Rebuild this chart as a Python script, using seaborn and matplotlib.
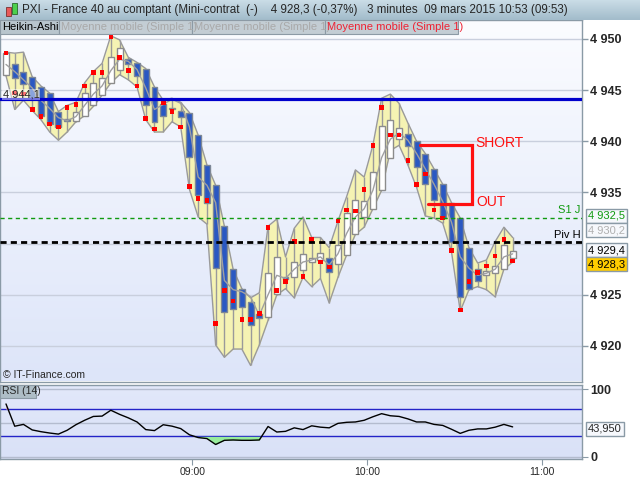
import numpy as np
import pandas as pd
import matplotlib
matplotlib.use("Agg")
import matplotlib.pyplot as plt
import seaborn as sns
from matplotlib.colors import LinearSegmentedColormap
from matplotlib.patches import Rectangle
from matplotlib.ticker import FuncFormatter
from matplotlib.transforms import blended_transform_factory

# --- Heikin-Ashi candles, 3 minutes, first candle 07:56 ---
first_min = 7 * 60 + 56
ha_open = [4946.5, 4947.5, 4946.8, 4946.3, 4945.3, 4944.7, 4942.9, 4942.2, 4942.0, 4942.5,
           4943.5, 4944.5, 4945.7, 4947.0, 4948.0, 4947.6, 4947.1, 4945.3, 4943.6, 4943.1,
           4943.0, 4942.8, 4940.6, 4937.7, 4935.7, 4931.7, 4927.5, 4925.6, 4924.3, 4923.1,
           4922.8, 4925.1, 4926.7, 4926.7, 4927.4, 4928.2, 4928.4, 4928.6, 4928.0, 4928.9,
           4930.9, 4932.6, 4933.4, 4935.2, 4938.4, 4940.2, 4940.7, 4940.0, 4938.8, 4937.3,
           4935.8, 4934.0, 4932.5, 4929.6, 4927.5, 4926.9, 4927.1, 4927.5, 4928.6]
ha_close = [4948.6, 4946.2, 4945.6, 4944.2, 4942.5, 4941.7, 4941.4, 4942.0, 4942.9, 4944.7,
            4945.7, 4946.2, 4948.2, 4949.1, 4947.5, 4946.4, 4943.5, 4941.9, 4942.5, 4943.2,
            4942.4, 4938.5, 4934.7, 4934.0, 4927.6, 4923.3, 4923.6, 4923.8, 4922.0, 4922.7,
            4927.1, 4928.7, 4926.5, 4928.2, 4929.0, 4928.6, 4929.1, 4927.2, 4929.9, 4933.0,
            4934.3, 4934.2, 4937.0, 4941.5, 4942.1, 4941.3, 4939.5, 4937.5, 4935.8, 4934.3,
            4932.5, 4930.2, 4924.8, 4925.6, 4926.3, 4927.3, 4927.8, 4929.9, 4929.3]
ha_high = [4948.7, 4948.6, 4948.7, 4946.3, 4945.4, 4944.7, 4942.9, 4943.5, 4943.8, 4945.7,
           4946.8, 4947.6, 4950.3, 4949.9, 4948.2, 4947.7, 4947.1, 4945.3, 4944.0, 4944.2,
           4943.8, 4942.8, 4940.6, 4937.7, 4935.7, 4931.7, 4927.5, 4925.6, 4924.7, 4925.2,
           4931.7, 4932.4, 4928.7, 4931.5, 4932.6, 4930.6, 4930.6, 4929.6, 4932.2, 4934.6,
           4937.2, 4936.5, 4939.6, 4944.2, 4944.6, 4943.7, 4941.8, 4940.0, 4938.8, 4937.3,
           4935.8, 4934.0, 4932.5, 4929.6, 4928.1, 4928.4, 4930.2, 4931.6, 4930.6]
ha_low = [4946.4, 4943.1, 4944.0, 4943.0, 4942.1, 4940.9, 4940.1, 4940.9, 4941.9, 4942.5,
          4943.4, 4944.5, 4945.7, 4946.5, 4946.0, 4945.3, 4942.1, 4940.9, 4940.9, 4941.9,
          4941.4, 4935.3, 4932.6, 4931.9, 4920.1, 4918.9, 4919.7, 4919.7, 4918.1, 4920.1,
          4922.5, 4925.0, 4925.6, 4924.7, 4926.7, 4925.8, 4926.6, 4924.2, 4926.7, 4928.9,
          4930.9, 4931.6, 4933.4, 4935.2, 4939.1, 4939.6, 4937.7, 4935.5, 4932.7, 4932.5,
          4932.0, 4929.2, 4923.4, 4925.5, 4925.8, 4925.5, 4924.8, 4927.5, 4928.2]
# red dots : Moyenne mobile (Simple 1) = last price
last_px = [4948.6, 4944.7, 4944.6, 4943.1, 4942.4, 4941.7, 4941.4, 4943.3, 4943.6, 4945.4,
           4946.7, 4946.7, 4950.2, 4948.2, 4946.9, 4945.4, 4942.2, 4941.2, 4943.8, 4942.9,
           4941.4, 4935.6, 4934.4, 4934.2, 4922.2, 4925.4, 4924.4, 4922.6, 4922.6, 4923.2,
           4931.6, 4925.4, 4926.3, 4930.2, 4926.8, 4930.4, 4928.2, 4927.7, 4932.2, 4933.3,
           4933.2, 4935.3, 4939.6, 4943.3, 4940.6, 4940.6, 4938.1, 4935.8, 4936.8, 4933.3,
           4932.5, 4929.3, 4923.5, 4926.3, 4927.2, 4927.8, 4928.8, 4930.4, 4928.3]
# grey moving average
ma_line = [4947.5, 4946.8, 4946.0, 4945.2, 4944.0, 4943.2, 4942.3, 4942.0, 4942.4, 4943.5,
           4944.6, 4945.4, 4946.9, 4948.0, 4947.8, 4947.0, 4945.2, 4943.1, 4943.6, 4944.1,
           4943.7, 4941.4, 4936.5, 4935.7, 4934.0, 4926.4, 4925.5, 4925.3, 4924.8, 4923.0,
           4925.0, 4926.9, 4926.6, 4927.5, 4928.2, 4928.4, 4928.7, 4927.9, 4929.0, 4931.0,
           4932.6, 4933.4, 4935.2, 4938.4, 4940.2, 4940.8, 4940.1, 4938.8, 4937.3, 4935.8,
           4934.1, 4932.1, 4928.7, 4927.6, 4926.9, 4927.1, 4927.5, 4928.7, 4929.0]
rsi = [78, 45, 47.7, 39.5, 36.9, 34.9, 33.3, 39, 47.2, 53.8,
       59.5, 60, 68.7, 62.6, 57.4, 51.3, 40, 38.5, 47.2, 45.1,
       41.5, 32.3, 28.2, 26.7, 17.9, 24.1, 24.6, 24.1, 24.1, 24.6,
       44.6, 36.4, 37.4, 42.6, 40, 45.6, 43.6, 42.6, 49.2, 50.8,
       51.3, 53.8, 59, 63.6, 60.5, 59.5, 55.9, 51.3, 51.3, 47.7,
       46.2, 40.5, 34.4, 39, 41, 41, 43.6, 47.7, 44.0]

level_blue = 4944.1
level_s1 = 4932.5
level_piv = 4930.2
last_ha = 4929.4
last_price = 4928.3
rsi_last = 43.950
time_labels = ["09:00", "10:00", "11:00"]
short_level, out_level = 4939.6, 4933.9

df = pd.DataFrame({"open": ha_open, "close": ha_close, "high": ha_high, "low": ha_low,
                   "last": last_px, "ma": ma_line, "rsi": rsi})
df["x"] = np.arange(len(df))

def fr(v, d=1):
    return f"{v:,.{d}f}".replace(",", " ").replace(".", ",")

sns.set_style("white")
plt.rcParams["font.family"] = ["Liberation Sans", "DejaVu Sans"]

fig = plt.figure(figsize=(6.4, 4.8), dpi=100)
W, H = 640.0, 480.0
def fx(x): return x / W
def fy(y): return 1 - y / H

xlim = (-0.686, 65.94)
edge = "#8a9aa6"

# main panel
ax = fig.add_axes([0, fy(381.5), fx(582), (381.5 - 20) / H])
ylo, yhi = 4916.53, 4951.84
bg = LinearSegmentedColormap.from_list("bg", ["#fbfcff", "#dde5f9"])
ax.imshow(np.linspace(0, 1, 200).reshape(-1, 1), cmap=bg, aspect="auto",
          extent=[xlim[0], xlim[1], ylo, yhi], zorder=0)
for lv in [4920, 4925, 4930, 4935, 4940, 4945, 4950]:
    ax.axhline(lv, color="#c9cfdd", lw=1, zorder=0.5)

x = df["x"].values
ax.fill_between(x, df["low"], df["high"], color="#f5f3b3", zorder=1, lw=0)
ax.plot(x, df["high"], color="#9a9a9a", lw=1, zorder=1.5)
ax.plot(x, df["low"], color="#9a9a9a", lw=1, zorder=1.5)
ax.vlines(x, df["low"], df["high"], color="#9a9a9a", lw=1, zorder=2)

up = df["close"] >= df["open"]
ax.bar(x[up], (df["close"] - df["open"])[up], bottom=df["open"][up], width=0.68,
       color="white", edgecolor="#8c8c8c", lw=1, zorder=3)
ax.bar(x[~up], (df["open"] - df["close"])[~up], bottom=df["close"][~up], width=0.68,
       color="#2a58c2", edgecolor="#7d8796", lw=1, zorder=3)

sns.lineplot(data=df, x="x", y="ma", color="#a0a0a0", lw=1, ax=ax, zorder=4)
sns.scatterplot(data=df, x="x", y="last", marker="s", s=11, color="#ff0000",
                edgecolor="none", ax=ax, zorder=5, legend=False)

ax.axhline(level_blue, color="#0000cc", lw=2.3, zorder=6)
ax.axhline(level_s1, color="#109a10", lw=1, ls=(0, (3, 2.5)), zorder=6)
ax.axhline(level_piv, color="black", lw=2, ls=(0, (2.2, 1.5)), zorder=6)

# SHORT / OUT bracket
ax.plot([47.4, 53.4, 53.4, 48.3], [short_level, short_level, out_level, out_level],
        color="#ff1010", lw=2.3, zorder=7, solid_joinstyle="miter")
ax.text(53.75, short_level + 0.25, "SHORT", color="#ff1010", fontsize=10, va="center", zorder=7)
ax.text(53.9, out_level + 0.2, "OUT", color="#ff1010", fontsize=10, va="center", zorder=7)

ax.text(-0.35, level_blue + 0.5, fr(level_blue), fontsize=8, va="center", ha="left", zorder=8,
        bbox=dict(boxstyle="square,pad=0.05", fc="white", ec="none", alpha=0.45))
ax.text(0.005, ylo + 0.65, "© IT-Finance.com", transform=blended_transform_factory(ax.transAxes, ax.transData),
        fontsize=7.5, va="center", zorder=8)

tr = blended_transform_factory(ax.transAxes, ax.transData)
ax.text(0.997, level_s1 + 0.25, "S1 J", color="#109a10", fontsize=8, ha="right", va="bottom", transform=tr, zorder=8)
ax.text(0.997, level_piv + 0.2, "Piv H", color="black", fontsize=8, ha="right", va="bottom", transform=tr, zorder=8)

box = dict(boxstyle="square,pad=0.18", ec="#8a9aa6", lw=1)
ax.text(1.010, 4932.7, fr(level_s1), color="#109a10", fontsize=8, va="center", transform=tr,
        clip_on=False, zorder=10, bbox=dict(box, fc="#f6f8fc"))
ax.text(1.010, 4931.3, fr(level_piv), color="#b0b0b0", fontsize=8, va="center", transform=tr,
        clip_on=False, zorder=10, bbox=dict(box, fc="#f6f8fc"))
ax.text(1.010, last_ha - 0.05, fr(last_ha), color="black", fontsize=8, va="center", transform=tr,
        clip_on=False, zorder=11, bbox=dict(box, fc="#f6f8fc"))
ax.text(1.010, last_price - 0.3, fr(last_price), color="black", fontsize=8, va="center", transform=tr,
        clip_on=False, zorder=12, bbox=dict(box, fc="#ffcc00"))

ax.set_xlim(*xlim)
ax.set_ylim(ylo, yhi)
ax.yaxis.tick_right()
ax.set_yticks([4920, 4925, 4935, 4940, 4945, 4950])
ax.yaxis.set_major_formatter(FuncFormatter(lambda v, p: f"{int(round(v)):,}".replace(",", " ")))
ax.tick_params(axis="y", right=True, length=4, width=1, color=edge, pad=2, labelsize=9)
for t in ax.get_yticklabels():
    t.set_fontweight("bold")
ax.set_xticks([])
ax.set_xlabel("")
ax.set_ylabel("")
for s in ax.spines.values():
    s.set_color(edge)
    s.set_linewidth(1)

# RSI panel
rx = fig.add_axes([0, fy(459), fx(582), (459 - 385) / H])
rlo, rhi = -3.6, 106.1
rbg = LinearSegmentedColormap.from_list("rbg", ["#e2e8fa", "#d9e1f7"])
rx.imshow(np.linspace(0, 1, 50).reshape(-1, 1), cmap=rbg, aspect="auto",
          extent=[xlim[0], xlim[1], rlo, rhi], zorder=0)
for lv in [0, 50, 100]:
    rx.axhline(lv, color="#b4bccf", lw=1, zorder=0.5)
rx.axhline(70, color="#2424c8", lw=1, zorder=1)
rx.axhline(30, color="#2424c8", lw=1, zorder=1)
r = df["rsi"].values
rx.fill_between(x, r, 70, where=r > 70, interpolate=True, color="#f2a2aa", zorder=1.5, lw=0)
rx.fill_between(x, r, 30, where=r < 30, interpolate=True, color="#98ec9c", zorder=1.5, lw=0)
sns.lineplot(data=df, x="x", y="rsi", color="black", lw=1, ax=rx, zorder=2)
rx.set_xlim(*xlim)
rx.set_ylim(rlo, rhi)
rx.yaxis.tick_right()
rx.set_yticks([0, 100])
rx.tick_params(axis="y", right=True, length=4, color=edge, pad=2, labelsize=9)
for t in rx.get_yticklabels():
    t.set_fontweight("bold")
tick_pos = [(int(s[:2]) * 60 + int(s[3:]) - first_min) / 3 for s in time_labels]
rx.set_xticks(tick_pos)
rx.set_xticklabels(time_labels)
rx.tick_params(axis="x", bottom=True, length=4, color=edge, pad=2, labelsize=7.5)
rx.set_xlabel("")
rx.set_ylabel("")
for s in rx.spines.values():
    s.set_color(edge)
    s.set_linewidth(1)
rtr = blended_transform_factory(rx.transAxes, rx.transData)
rx.text(1.010, rsi_last - 3, fr(rsi_last, 3), fontsize=8, va="center", transform=rtr,
        clip_on=False, zorder=10, bbox=dict(box, fc="#f6f8fc"))

# title bar
tb = fig.add_axes([0, fy(20), 1, 20 / H])
tcm = LinearSegmentedColormap.from_list("tb", ["#c9dce6", "#a3bccb"])
tb.imshow(np.linspace(0, 1, 20).reshape(-1, 1), cmap=tcm, aspect="auto", extent=[0, 1, 0, 1])
tb.set_axis_off()
fig.text(fx(22), fy(10), "PXI - France 40 au comptant (Mini-contrat  (-)    4 928,3 (-0,37%)   "
         "3 minutes  09 mars 2015 10:53 (09:53)", fontsize=8.4, va="center", ha="left")
# icon
fig.add_artist(Rectangle((fx(6), fy(16)), fx(5), 9 / H, fc="#e85a5a", ec="#7a3030", lw=0.6))
fig.add_artist(Rectangle((fx(12), fy(14)), fx(5), 11 / H, fc="#4cd04c", ec="#2a6a2a", lw=0.6))

# legend tabs
tabs = [("Heikin-Ashi", 0, 59, "black", "#b8c5cd"),
        ("Moyenne mobile (Simple 1)", 59, 192, "#a9a9a9", "#c3cdd4"),
        ("Moyenne mobile (Simple 1)", 192, 325, "#a9a9a9", "#c3cdd4"),
        ("Moyenne mobile (Simple 1)", 325, 458, "#ee2233", "#c3cdd4")]
for label, x0, x1, tc, fc in tabs:
    fig.add_artist(Rectangle((fx(x0), fy(34)), fx(x1 - x0), 14 / H, fc=fc, ec="#8c9aa5", lw=0.8))
    fig.text(fx(x0 + 2), fy(27), label, fontsize=8, color=tc, va="center", ha="left")

fig.add_artist(Rectangle((fx(0), fy(398)), fx(36), 13 / H, fc="#aebdc6", ec="#8c9aa5", lw=0.8))
fig.text(fx(2), fy(391.5), "RSI (14)", fontsize=7.5, va="center", ha="left")

fig.savefig("out.png", dpi=100)
